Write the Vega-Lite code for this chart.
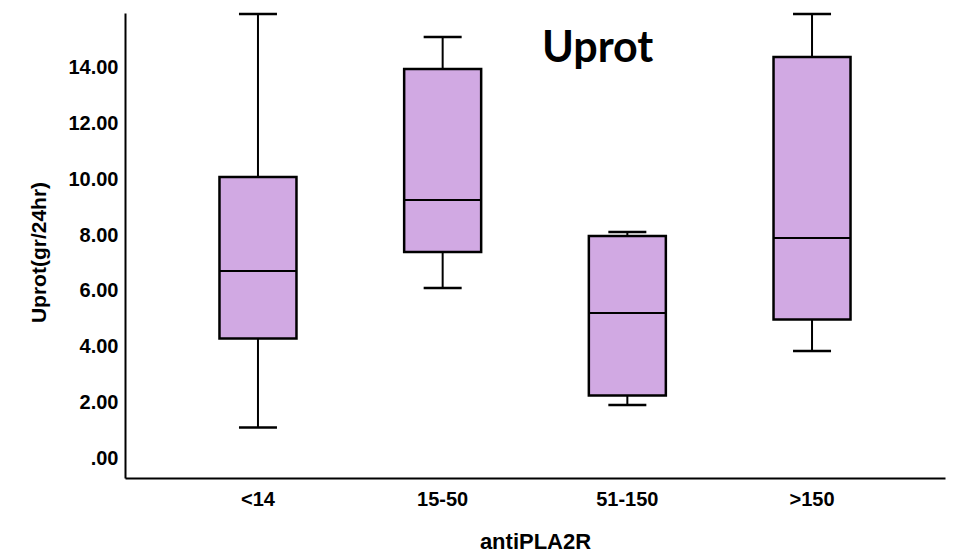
{
  "$schema": "https://vega.github.io/schema/vega-lite/v6.json",
  "autosize": "none",
  "width": 820,
  "height": 465,
  "padding": {"left": 125, "top": 13, "right": 8, "bottom": 74},
  "background": "white",
  "title": {
    "text": "Uprot",
    "font": "Lato",
    "fontSize": 43,
    "fontWeight": "bold",
    "color": "black",
    "anchor": "start",
    "frame": "group",
    "baseline": "alphabetic",
    "offset": 0,
    "dx": 417,
    "dy": 92
  },
  "data": {
    "values": [
      {"group": "<14", "min": 1.12, "q1": 4.3, "median": 6.71, "q3": 10.07, "max": 15.89},
      {"group": "15-50", "min": 6.11, "q1": 7.39, "median": 9.25, "q3": 13.93, "max": 15.07},
      {"group": "51-150", "min": 1.93, "q1": 2.27, "median": 5.21, "q3": 7.96, "max": 8.11},
      {"group": ">150", "min": 3.86, "q1": 4.98, "median": 7.89, "q3": 14.36, "max": 15.89}
    ]
  },
  "encoding": {
    "x": {
      "field": "group",
      "type": "nominal",
      "sort": ["<14", "15-50", "51-150", ">150"],
      "scale": {"paddingOuter": 0.22, "paddingInner": 0},
      "axis": {
        "title": "antiPLA2R",
        "labelAngle": 0,
        "ticks": false,
        "labelPadding": 11,
        "labelFont": "Liberation Sans",
        "labelFontSize": 20,
        "labelFontWeight": "bold",
        "labelColor": "black",
        "titleFont": "Liberation Sans",
        "titleFontSize": 22,
        "titleFontWeight": "bold",
        "titleColor": "black",
        "titleBaseline": "alphabetic",
        "titleY": 70,
        "domainColor": "black",
        "domainWidth": 2
      }
    }
  },
  "layer": [
    {
      "mark": {"type": "rule", "color": "black", "strokeWidth": 2},
      "encoding": {
        "y": {
          "field": "min",
          "type": "quantitative",
          "scale": {"domain": [-0.68, 15.93], "nice": false, "zero": false},
          "axis": {
            "title": "Uprot(gr/24hr)",
            "values": [0, 2, 4, 6, 8, 10, 12, 14],
            "labelExpr": "datum.value == 0 ? '.00' : format(datum.value, '.2f')",
            "ticks": false,
            "grid": false,
            "labelPadding": 7,
            "labelFont": "Liberation Sans",
            "labelFontSize": 20,
            "labelFontWeight": "bold",
            "labelColor": "black",
            "titleFont": "Liberation Sans",
            "titleFontSize": 21,
            "titleFontWeight": "bold",
            "titleColor": "black",
            "titleAngle": -90,
            "titleAlign": "center",
            "titleBaseline": "alphabetic",
            "titleX": -80,
            "titleY": 239,
            "domainColor": "black",
            "domainWidth": 2
          }
        },
        "y2": {"field": "max"}
      }
    },
    {
      "mark": {"type": "tick", "color": "black", "size": 38, "thickness": 2.5, "opacity": 1},
      "encoding": {"y": {"field": "min", "type": "quantitative"}}
    },
    {
      "mark": {"type": "tick", "color": "black", "size": 38, "thickness": 2.5, "opacity": 1},
      "encoding": {"y": {"field": "max", "type": "quantitative"}}
    },
    {
      "mark": {"type": "bar", "size": 77, "fill": "#D1A9E3", "stroke": "black", "strokeWidth": 2.5},
      "encoding": {
        "y": {"field": "q1", "type": "quantitative"},
        "y2": {"field": "q3"}
      }
    },
    {
      "mark": {"type": "tick", "color": "black", "size": 77, "thickness": 2, "opacity": 1},
      "encoding": {"y": {"field": "median", "type": "quantitative"}}
    }
  ],
  "config": {"view": {"stroke": null}}
}
